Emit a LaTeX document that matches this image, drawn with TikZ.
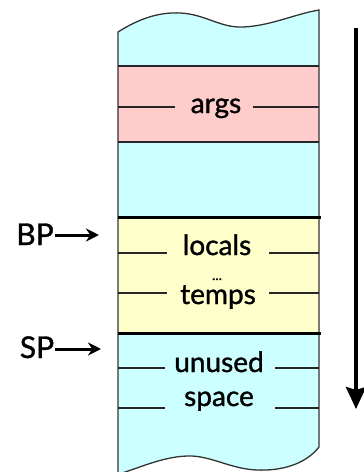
\documentclass[tikz,border=0pt]{standalone}
\usepackage{fontspec}
\setmainfont{Lato}
\newfontfamily\stackfont{Lato}[FakeBold=1.2]
\usetikzlibrary{arrows.meta}
\definecolor{stackcyan}{HTML}{CCFFFF}
\definecolor{stackpink}{HTML}{FFCCCC}
\definecolor{stackyellow}{HTML}{FFFFCC}
\begin{document}
\begin{tikzpicture}[x=1pt,y=-1pt,
    slot/.style={anchor=base,inner sep=1pt,font=\stackfont\fontsize{28}{32}\selectfont},
    ptr/.style={anchor=base,inner sep=1pt,font=\stackfont\fontsize{30}{34}\selectfont},
    mark line/.style={line width=1.3pt,black!85}]
    \useasboundingbox (0,0) rectangle (364,472);

    % Stack body with torn top and bottom
    \fill[stackcyan] (118,32) .. controls (140,18) and (160,12) .. (180,13)
        .. controls (205,14) and (220,28) .. (243,27)
        .. controls (270,26) and (295,14) .. (319,10)
        -- (319,447) .. controls (305,465) and (280,471) .. (257,470)
        .. controls (230,469) and (210,455) .. (187,456)
        .. controls (160,457) and (135,470) .. (118,474) -- cycle;

    % Frames
    \fill[stackpink] (118,66) rectangle (319,142);
    \fill[stackyellow] (118,217) rectangle (319,333);

    % Outline
    \draw[line width=1.3pt,black!80] (118,474) -- (118,32)
        .. controls (140,18) and (160,12) .. (180,13)
        .. controls (205,14) and (220,28) .. (243,27)
        .. controls (270,26) and (295,14) .. (319,10)
        -- (319,447) .. controls (305,465) and (280,471) .. (257,470)
        .. controls (230,469) and (210,455) .. (187,456)
        .. controls (160,457) and (135,470) .. (118,474);
    \draw[mark line] (118,66) -- (319,66);
    \draw[mark line] (118,142) -- (319,142);
    \draw[line width=3pt] (118,217) -- (321,217);
    \draw[line width=3pt] (118,333) -- (321,333);

    % Slot labels
    \node[slot] (args) at (216,113) {args};
    \node[slot] (locals) at (217,255) {locals};
    \node[slot] (dots) at (217,280) {\fontsize{14}{16}\selectfont ...};
    \node[slot] (temps) at (218,304) {temps};
    \node[slot] (unused) at (219,372) {unused};
    \node[slot] (space) at (219,406) {space};

    % Slot marks
    \draw[mark line] (118,107) -- (175,107) (253,107) -- (319,107);
    \draw[mark line] (118,253) -- (167,253) (269,253) -- (319,253);
    \draw[mark line] (118,293) -- (167,293) (269,293) -- (319,293);
    \draw[mark line] (118,368) -- (165,368) (275,368) -- (319,368);
    \draw[mark line] (118,408) -- (165,408) (275,408) -- (319,408);

    % Pointers
    \node[ptr] (bp) at (35,245) {BP};
    \node[ptr] (sp) at (37,358) {SP};
    \coordinate (bpTip) at (99,235);
    \coordinate (spTip) at (101,349);
    \draw[line width=3pt,-{Stealth[length=13pt,width=13pt]}] (bp.east |- bpTip) -- (bpTip);
    \draw[line width=3pt,-{Stealth[length=13pt,width=13pt]}] (sp.east |- spTip) -- (spTip);

    % Growth direction
    \coordinate (growTop) at (356,28);
    \coordinate (growEnd) at (356,409);
    \draw[line width=4pt,-{Stealth[length=22pt,width=20pt,inset=3pt]}] (growTop) -- (growEnd);
\end{tikzpicture}
\end{document}
